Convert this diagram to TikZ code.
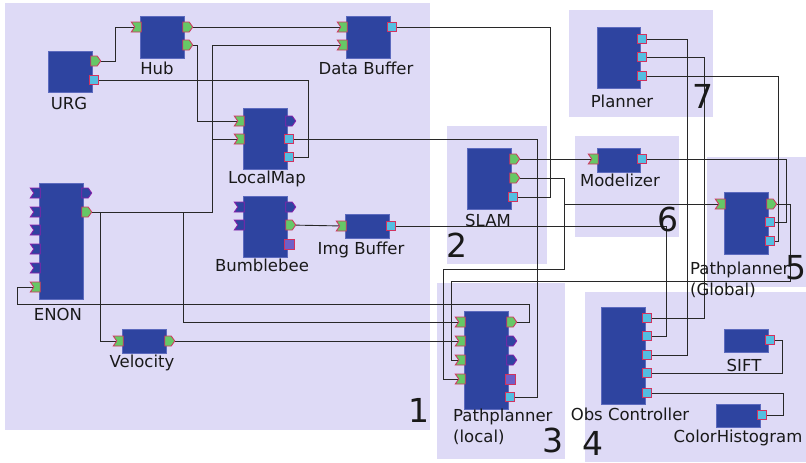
\documentclass[tikz,border=0pt]{standalone}
\usepackage{fontspec}
\setmainfont{DejaVu Sans}
\usetikzlibrary{shapes.symbols}
\pgfdeclarelayer{bg}
\pgfdeclarelayer{wires}
\pgfsetlayers{bg,wires,main}

\definecolor{zone}{RGB}{222,218,246}
\definecolor{blkfill}{RGB}{46,68,160}
\definecolor{blkedge}{RGB}{92,106,190}
\definecolor{pgreen}{RGB}{102,200,102}
\definecolor{pred}{RGB}{210,50,95}
\definecolor{pcyan}{RGB}{84,190,225}
\definecolor{pviolet}{RGB}{140,30,170}
\definecolor{pmauve}{RGB}{110,96,200}
\definecolor{wire}{RGB}{40,40,40}

\begin{document}
\begin{tikzpicture}[x=1pt,y=-1pt,
  zonebox/.style={fill=zone,draw=none},
  blk/.style={draw=blkedge,fill=blkfill,line width=0.8pt,inner sep=0pt,anchor=north west},
  inport/.style={signal,signal from=west,signal to=nowhere,signal pointer angle=110,
    minimum width=10pt,minimum height=10pt,inner sep=0pt,line width=0.8pt,draw=pred,fill=pgreen},
  outport/.style={signal,signal to=east,signal from=nowhere,signal pointer angle=110,
    minimum width=10pt,minimum height=10pt,inner sep=0pt,line width=0.8pt,draw=pred,fill=pgreen},
  idle/.style={draw=pviolet,fill=blkfill},
  dport/.style={rectangle,minimum width=9pt,minimum height=9pt,inner sep=0pt,line width=0.8pt,draw=pred,fill=pcyan},
  xport/.style={rectangle,minimum width=10pt,minimum height=10pt,inner sep=0pt,line width=0.8pt,draw=pred,fill=pmauve},
  lbl/.style={font=\fontsize{16.5}{19}\selectfont,inner sep=0pt,text=black!90},
  num/.style={font=\fontsize{33}{36}\selectfont,inner sep=0pt,text=black!90,anchor=base},
  wr/.style={draw=wire,line width=0.9pt}
]
\useasboundingbox (0,0) rectangle (806,463);

% grouping zones
\begin{pgfonlayer}{bg}
\fill[zonebox] (5,3) rectangle (430,430);
\fill[zonebox] (447,126) rectangle (547,264);
\fill[zonebox] (437,283) rectangle (565,459);
\fill[zonebox] (585,292) rectangle (806,462);
\fill[zonebox] (707,157) rectangle (806,287);
\fill[zonebox] (575,136) rectangle (679,237);
\fill[zonebox] (569,10) rectangle (713,117);
\end{pgfonlayer}

% components
\node[blk,minimum width=44pt,minimum height=41pt] (urg) at (48,51) {};
\node[blk,minimum width=44pt,minimum height=42pt] (hub) at (140,16) {};
\node[blk,minimum width=44pt,minimum height=42pt] (dbuf) at (346,16) {};
\node[blk,minimum width=44pt,minimum height=61pt] (lmap) at (243,108) {};
\node[blk,minimum width=44pt,minimum height=61pt] (bee) at (243,196) {};
\node[blk,minimum width=44pt,minimum height=24pt] (ibuf) at (345,214) {};
\node[blk,minimum width=44pt,minimum height=116pt] (enon) at (39,183) {};
\node[blk,minimum width=44pt,minimum height=24pt] (vel) at (122,329) {};
\node[blk,minimum width=44pt,minimum height=61pt] (slam) at (467,148) {};
\node[blk,minimum width=43pt,minimum height=24pt] (model) at (597,148) {};
\node[blk,minimum width=43pt,minimum height=61pt] (plan) at (597,27) {};
\node[blk,minimum width=44pt,minimum height=62pt] (ppg) at (724,192) {};
\node[blk,minimum width=44pt,minimum height=98pt] (ppl) at (464,311) {};
\node[blk,minimum width=44pt,minimum height=97pt] (obs) at (601,307) {};
\node[blk,minimum width=44pt,minimum height=23pt] (sift) at (724,329) {};
\node[blk,minimum width=44pt,minimum height=23pt] (chist) at (716,404) {};

% ports
\node[outport] (urgo) at (94,61) {};
\node[dport] (urgd) at (94,80) {};
\node[inport] (hubi) at (138,27) {};
\node[outport] (hubo1) at (186,27) {};
\node[outport] (hubo2) at (186,45) {};
\node[inport] (dbi1) at (344,27) {};
\node[inport] (dbi2) at (344,45) {};
\node[dport] (dbo) at (392,27) {};
\node[inport] (lmi1) at (241,121) {};
\node[inport] (lmi2) at (241,139) {};
\node[outport,idle] (lmo) at (289,121) {};
\node[dport] (lmd1) at (289,139) {};
\node[dport] (lmd2) at (289,157) {};
\node[inport,idle] (beei1) at (241,207) {};
\node[inport,idle] (beei2) at (241,225) {};
\node[outport,idle] (beeo1) at (289,207) {};
\node[outport] (beeo2) at (289,225) {};
\node[xport] (beex) at (289,244) {};
\node[inport] (ibi) at (343,226) {};
\node[dport] (ibo) at (391,226) {};
\foreach \k/\y in {1/193,2/212,3/230,4/249,5/268}
  \node[inport,idle] (enoni\k) at (37,\y) {};
\node[inport] (enoni6) at (37,287) {};
\node[outport,idle] (enonx) at (85,193) {};
\node[outport] (enono) at (85,212) {};
\node[inport] (veli) at (120,341) {};
\node[outport] (velo) at (168,341) {};
\node[outport] (slamo1) at (513,159) {};
\node[outport] (slamo2) at (513,178) {};
\node[dport] (slamd) at (513,197) {};
\node[inport] (modi) at (595,159) {};
\node[dport] (modd) at (642,159) {};
\node[dport] (plan1) at (642,39) {};
\node[dport] (plan2) at (642,57) {};
\node[dport] (plan3) at (642,76) {};
\node[inport] (ppgi) at (722,204) {};
\node[outport] (ppgo) at (770,204) {};
\node[dport] (ppgd1) at (770,222) {};
\node[dport] (ppgd2) at (770,241) {};
\node[inport] (ppli1) at (462,322) {};
\node[inport] (ppli2) at (462,341) {};
\node[inport] (ppli3) at (462,360) {};
\node[inport] (ppli4) at (462,379) {};
\node[outport] (pplo1) at (510,322) {};
\node[outport,idle] (pplo2) at (510,341) {};
\node[outport,idle] (pplo3) at (510,360) {};
\node[xport] (pplx) at (510,379) {};
\node[dport] (ppld) at (510,397) {};
\foreach \k/\y in {1/318,2/336,3/355,4/373,5/393}
  \node[dport] (obs\k) at (647,\y) {};
\node[dport] (siftd) at (770,340) {};
\node[dport] (chd) at (762,415) {};

% labels
\node[lbl] at (69,103) {URG};
\node[lbl] at (157,68) {Hub};
\node[lbl] at (366,68) {Data Buffer};
\node[lbl] at (267,179) {LocalMap};
\node[lbl] at (262,265) {Bumblebee};
\node[lbl] at (361,250) {Img Buffer};
\node[lbl] at (58,314) {ENON};
\node[lbl] at (142,363) {Velocity};
\node[lbl] at (488,220) {SLAM};
\node[lbl] at (620,180) {Modelizer};
\node[lbl] at (622,101) {Planner};
\node[lbl] at (630,414) {Obs Controller};
\node[lbl] at (744,365) {SIFT};
\node[lbl] at (738,438) {ColorHistogram};
\node[lbl,align=left,anchor=north west,font=\fontsize{16.5}{21}\selectfont] at (690,262) {Pathplanner\\(Global)};
\node[lbl,align=left,anchor=north west,font=\fontsize{16.5}{21}\selectfont] at (453,409) {Pathplanner\\(local)};

% zone numbers
\node[num] at (419,422) {1};
\node[num] at (457,257) {2};
\node[num] at (553,452) {3};
\node[num] at (593,455) {4};
\node[num] at (796,279) {5};
\node[num] at (668,231) {6};
\node[num] at (703,108) {7};

% connections
\begin{pgfonlayer}{wires}
\draw[wr] (urgo) -| (115,27) -- (hubi);
\draw[wr] (urgd) -| (308,157) -- (lmd2);
\draw[wr] (hubo1) -- (dbi1);
\draw[wr] (hubo2) -| (197,121) -- (lmi1);
\draw[wr] (enono) -| (212,45) -- (dbi2);
\draw[wr] (212,139) -- (lmi2);
\draw[wr] (100,212) |- (veli);
\draw[wr] (183,212) |- (ppli1);
\draw[wr] (velo) -- (ppli2);
\draw[wr] (pplo1) -| (529,304) -| (17,287) -- (enoni6);
\draw[wr] (beeo2) -- (ibi);
\draw[wr] (ibo) -| (666,336) -- (obs2);
\draw[wr] (dbo) -| (550,197) -- (slamd);
\draw[wr] (lmd1) -| (537,397) -- (ppld);
\draw[wr] (slamo1) -- (modi);
\draw[wr] (slamo2) -| (564,269) -| (443,379) -- (ppli4);
\draw[wr] (564,204) -- (ppgi);
\draw[wr] (ppgo) -| (790,281) -| (451,360) -- (ppli3);
\draw[wr] (modd) -| (786,222) -- (ppgd1);
\draw[wr] (plan1) -| (687,355) -- (obs3);
\draw[wr] (plan2) -| (704,318) -- (obs1);
\draw[wr] (plan3) -| (778,241) -- (ppgd2);
\draw[wr] (obs4) -| (782,340) -- (siftd);
\draw[wr] (obs5) -| (783,415) -- (chd);
\end{pgfonlayer}
\end{tikzpicture}
\end{document}
